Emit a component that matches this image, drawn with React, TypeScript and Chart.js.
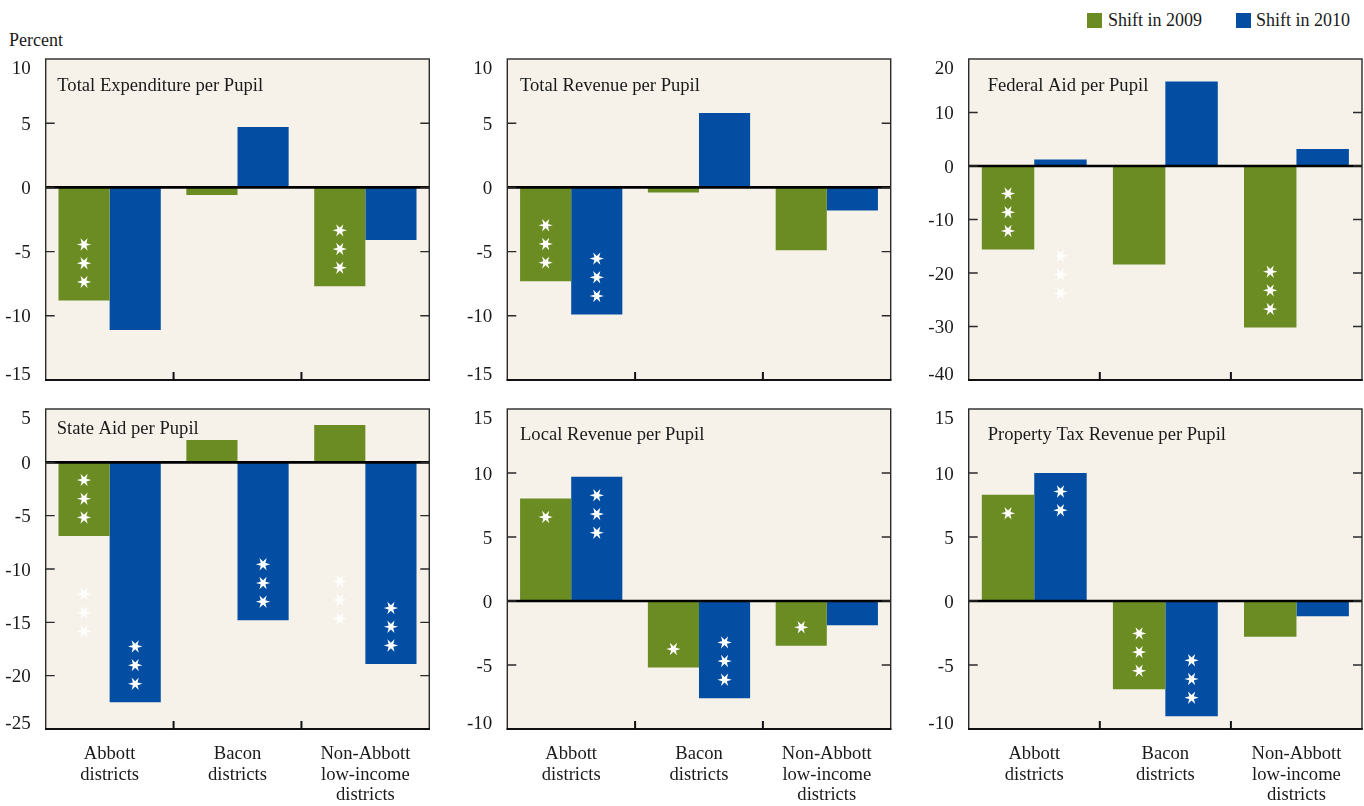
import React, { useEffect, useRef } from 'react';
import { Chart, registerables } from 'chart.js';

Chart.register(...registerables);

// ---------- data ----------
const categories: string[][] = [
  ['Abbott', 'districts'],
  ['Bacon', 'districts'],
  ['Non-Abbott', 'low-income', 'districts'],
];
const seriesNames = ['Shift in 2009', 'Shift in 2010'];

const titles = [
  'Total Expenditure per Pupil',
  'Total Revenue per Pupil',
  'Federal Aid per Pupil',
  'State Aid per Pupil',
  'Local Revenue per Pupil',
  'Property Tax Revenue per Pupil',
];

const expenditure2009 = [-8.8, -0.6, -7.7];
const expenditure2010 = [-11.1, 4.7, -4.1];
const revenue2009 = [-7.3, -0.4, -4.9];
const revenue2010 = [-9.9, 5.8, -1.8];
const federal2009 = [-15.6, -18.4, -30.2];
const federal2010 = [1.2, 15.8, 3.2];
const state2009 = [-6.9, 2.1, 3.5];
const state2010 = [-22.5, -14.8, -18.9];
const local2009 = [8.0, -5.2, -3.5];
const local2010 = [9.7, -7.6, -1.9];
const property2009 = [8.3, -6.9, -2.8];
const property2010 = [10.0, -9.0, -1.2];

const ticksA = [10, 5, 0, -5, -10, -15];
const ticksFederal = [20, 10, 0, -10, -20, -30, -40];
const ticksState = [5, 0, -5, -10, -15, -20, -25];
const ticksLocal = [15, 10, 5, 0, -5, -10];

// significance stars (count per bar)
const expenditureStars2009 = [3, 0, 3];
const expenditureStars2010 = [0, 0, 0];
const revenueStars2009 = [3, 0, 0];
const revenueStars2010 = [3, 0, 0];
const federalStars2009 = [3, 0, 3];
const federalStars2010 = [0, 0, 0];
const stateStars2009 = [3, 0, 0];
const stateStars2010 = [3, 3, 3];
const localStars2009 = [1, 1, 1];
const localStars2010 = [3, 3, 0];
const propertyStars2009 = [1, 3, 0];
const propertyStars2010 = [2, 3, 0];

// faint (white-on-background) star groups: value at group centre
const federalGhost2009: (number | null)[] = [null, null, null];
const federalGhost2010: (number | null)[] = [-20.3, null, null];
const stateGhost2009: (number | null)[] = [-14.1, null, -12.9];
const stateGhost2010: (number | null)[] = [null, null, null];
const noGhost: (number | null)[] = [null, null, null];

// ---------- styles / layout ----------
const GREEN = '#6b8b23';
const BLUE = '#034ea2';
const PLOT_BG = '#f6f2ea';
const FONT = '"Liberation Serif", "DejaVu Serif", serif';

type Panel = {
  title: string;
  v2009: number[];
  v2010: number[];
  s2009: number[];
  s2010: number[];
  g2009: (number | null)[];
  g2010: (number | null)[];
  ticks: number[];
  box: { left: number; top: number; width: number; height: number };
  pad: { left: number; right: number; top: number; bottom: number };
  titleDx: number;
  titleDy: number;
  showCategories: boolean;
};

const colBoxes = [
  { left: 0, width: 460, pl: 45.7, pr: 30.7 },
  { left: 460, width: 450, pl: 47.3, pr: 19.3 },
  { left: 910, width: 454, pl: 58.7, pr: 2 },
];
const rowBoxes = [
  { top: 45, height: 345, pt: 14, pb: 10, cats: false },
  { top: 395, height: 411, pt: 14, pb: 77, cats: true },
];

const panelData = [
  [expenditure2009, expenditure2010, expenditureStars2009, expenditureStars2010, noGhost, noGhost, ticksA],
  [revenue2009, revenue2010, revenueStars2009, revenueStars2010, noGhost, noGhost, ticksA],
  [federal2009, federal2010, federalStars2009, federalStars2010, federalGhost2009, federalGhost2010, ticksFederal],
  [state2009, state2010, stateStars2009, stateStars2010, stateGhost2009, stateGhost2010, ticksState],
  [local2009, local2010, localStars2009, localStars2010, noGhost, noGhost, ticksLocal],
  [property2009, property2010, propertyStars2009, propertyStars2010, noGhost, noGhost, ticksLocal],
] as any[];

const titleOffsets = [
  [11.6, 32],
  [12.7, 32],
  [19, 32],
  [11, 25],
  [12.7, 31],
  [19, 31],
];

const panels: Panel[] = panelData.map((d, i) => {
  const c = colBoxes[i % 3];
  const r = rowBoxes[Math.floor(i / 3)];
  return {
    title: titles[i],
    v2009: d[0],
    v2010: d[1],
    s2009: d[2],
    s2010: d[3],
    g2009: d[4],
    g2010: d[5],
    ticks: d[6],
    box: { left: c.left, top: r.top, width: c.width, height: r.height },
    pad: { left: c.pl, right: c.pr, top: r.pt, bottom: r.pb },
    titleDx: titleOffsets[i][0],
    titleDy: titleOffsets[i][1],
    showCategories: r.cats,
  };
});

function drawStar(ctx: CanvasRenderingContext2D, x: number, y: number, color: string) {
  const outer = 7.2;
  const inner = 2.7;
  ctx.save();
  ctx.fillStyle = color;
  ctx.beginPath();
  for (let k = 0; k < 12; k++) {
    const r = k % 2 === 0 ? outer : inner;
    const a = (Math.PI / 6) * k;
    const px = x + r * Math.cos(a);
    const py = y + r * Math.sin(a);
    if (k === 0) ctx.moveTo(px, py);
    else ctx.lineTo(px, py);
  }
  ctx.closePath();
  ctx.fill();
  ctx.restore();
}

function makePlugin(p: Panel) {
  return {
    id: 'panelDecor',
    beforeDatasetsDraw(chart: any) {
      const { ctx, chartArea: a } = chart;
      ctx.save();
      ctx.fillStyle = PLOT_BG;
      ctx.fillRect(a.left, a.top, a.right - a.left, a.bottom - a.top);
      ctx.restore();
    },
    afterDatasetsDraw(chart: any) {
      const { ctx, chartArea: a } = chart;
      const y = chart.scales.y;
      const x = chart.scales.x;
      ctx.save();

      // stars inside bars
      const starSets = [p.s2009, p.s2010];
      starSets.forEach((counts, di) => {
        const meta = chart.getDatasetMeta(di);
        counts.forEach((n, i) => {
          if (!n) return;
          const bar = meta.data[i];
          const end = bar.y;
          const dir = end > bar.base ? -1 : 1; // toward zero
          for (let k = 0; k < n; k++) {
            drawStar(ctx, bar.x, end + dir * (18.5 + k * 18.7), '#ffffff');
          }
        });
      });
      // faint stars
      [p.g2009, p.g2010].forEach((vals, di) => {
        const meta = chart.getDatasetMeta(di);
        vals.forEach((v, i) => {
          if (v === null) return;
          const bar = meta.data[i];
          const cy = y.getPixelForValue(v);
          for (let k = -1; k <= 1; k++) drawStar(ctx, bar.x, cy + k * 18.7, 'rgba(255,255,255,0.92)');
        });
      });

      // zero line
      const y0 = y.getPixelForValue(0);
      ctx.strokeStyle = '#000';
      ctx.lineWidth = 2.6;
      ctx.beginPath();
      ctx.moveTo(a.left, y0);
      ctx.lineTo(a.right, y0);
      ctx.stroke();

      // frame
      ctx.strokeStyle = '#2a2a2a';
      ctx.lineWidth = 1.4;
      ctx.strokeRect(a.left, a.top, a.right - a.left, a.bottom - a.top);
      ctx.strokeStyle = '#111';
      ctx.lineWidth = 2;
      ctx.beginPath();
      ctx.moveTo(a.left - 0.7, a.bottom);
      ctx.lineTo(a.right + 0.7, a.bottom);
      ctx.stroke();

      // y ticks (inward, both sides)
      ctx.strokeStyle = '#2a2a2a';
      ctx.lineWidth = 1.4;
      const yMax = p.ticks[0];
      const yMin = p.ticks[p.ticks.length - 1];
      p.ticks.forEach((t) => {
        if (t === yMax || t === yMin) return;
        const py = y.getPixelForValue(t);
        ctx.beginPath();
        ctx.moveTo(a.left, py);
        ctx.lineTo(a.left + 9, py);
        ctx.moveTo(a.right, py);
        ctx.lineTo(a.right - 9, py);
        ctx.stroke();
      });
      // x ticks at category boundaries
      ctx.strokeStyle = '#111';
      ctx.lineWidth = 2;
      for (let i = 1; i < categories.length; i++) {
        const px = (x.getPixelForValue(i - 1) + x.getPixelForValue(i)) / 2;
        ctx.beginPath();
        ctx.moveTo(px, a.bottom);
        ctx.lineTo(px, a.bottom - 8);
        ctx.stroke();
      }

      // y tick labels
      ctx.fillStyle = '#1a1a1a';
      ctx.font = `19px ${FONT}`;
      ctx.textAlign = 'right';
      ctx.textBaseline = 'alphabetic';
      p.ticks.forEach((t) => {
        let py = y.getPixelForValue(t);
        py = Math.max(a.top + 8, Math.min(a.bottom - 7, py));
        ctx.fillText(String(t), a.left - 15, py + 6.5);
      });

      // panel title
      ctx.textAlign = 'left';
      ctx.font = `18.6px ${FONT}`;
      ctx.fillText(p.title, a.left + p.titleDx, a.top + p.titleDy);

      // category labels
      if (p.showCategories) {
        ctx.textAlign = 'center';
        categories.forEach((lines, i) => {
          const px = x.getPixelForValue(i);
          lines.forEach((ln, j) => {
            ctx.fillText(ln, px, a.bottom + 30 + j * 20.5);
          });
        });
      }
      ctx.restore();
    },
  };
}

function PanelChart({ p }: { p: Panel }) {
  const ref = useRef<HTMLCanvasElement | null>(null);
  useEffect(() => {
    if (!ref.current) return;
    const chart = new Chart(ref.current, {
      type: 'bar',
      data: {
        labels: categories.map((c) => c.join(' ')),
        datasets: [
          {
            label: seriesNames[0],
            data: p.v2009,
            backgroundColor: GREEN,
            categoryPercentage: 0.8,
            barPercentage: 1.0,
            borderWidth: 0,
          },
          {
            label: seriesNames[1],
            data: p.v2010,
            backgroundColor: BLUE,
            categoryPercentage: 0.8,
            barPercentage: 1.0,
            borderWidth: 0,
          },
        ],
      },
      options: {
        responsive: false,
        maintainAspectRatio: false,
        animation: false,
        devicePixelRatio: 1,
        layout: { padding: p.pad },
        scales: {
          x: { display: false },
          y: { display: false, min: p.ticks[p.ticks.length - 1], max: p.ticks[0] },
        },
        plugins: { legend: { display: false }, tooltip: { enabled: false } },
      },
      plugins: [makePlugin(p)],
    } as any);
    return () => chart.destroy();
  }, [p]);
  return (
    <canvas
      ref={ref}
      width={p.box.width}
      height={p.box.height}
      style={{
        position: 'absolute',
        left: p.box.left,
        top: p.box.top,
        width: p.box.width,
        height: p.box.height,
      }}
    />
  );
}

export default function App() {
  const textStyle: React.CSSProperties = {
    position: 'absolute',
    fontFamily: FONT,
    fontSize: 18,
    color: '#1a1a1a',
    lineHeight: '18px',
    whiteSpace: 'nowrap',
  };
  return (
    <div style={{ position: 'absolute', left: 0, top: 0, width: 1364, height: 806, background: '#fff', overflow: 'hidden' }}>
      <div style={{ ...textStyle, left: 9, top: 31 }}>Percent</div>
      <div style={{ position: 'absolute', left: 1087, top: 13, width: 15, height: 15, background: GREEN }} />
      <div style={{ ...textStyle, left: 1108, top: 11 }}>{seriesNames[0]}</div>
      <div style={{ position: 'absolute', left: 1236, top: 13, width: 15, height: 15, background: BLUE }} />
      <div style={{ ...textStyle, left: 1256, top: 11 }}>{seriesNames[1]}</div>
      {panels.map((p, i) => (
        <PanelChart key={i} p={p} />
      ))}
    </div>
  );
}
